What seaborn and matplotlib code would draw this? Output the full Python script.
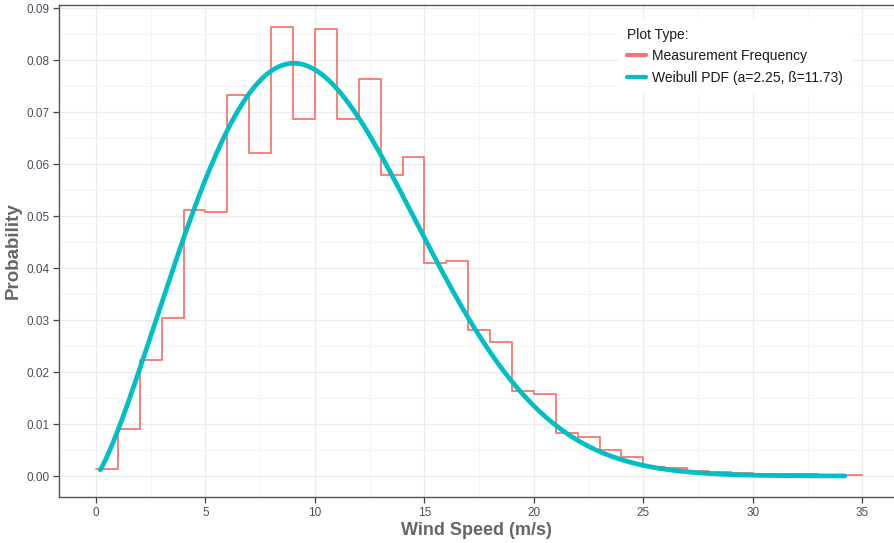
import numpy as np
import pandas as pd
import matplotlib
matplotlib.use("Agg")
import matplotlib.pyplot as plt
from matplotlib.lines import Line2D
from matplotlib.ticker import MultipleLocator
import seaborn as sns

# Relative frequency of wind-speed measurements per 1 m/s bin (bin left edges 0..34)
bin_edges = list(range(0, 36))
freq = [0.0014, 0.0091, 0.0224, 0.0303, 0.0511, 0.0508, 0.0733, 0.0622, 0.0863, 0.0686,
        0.0860, 0.0686, 0.0763, 0.0579, 0.0614, 0.0409, 0.0414, 0.0281, 0.0257, 0.0163,
        0.0158, 0.0083, 0.0075, 0.0050, 0.0037, 0.0017, 0.0016, 0.0010, 0.0007, 0.0005,
        0.0004, 0.0003, 0.0003, 0.0002, 0.0002]

# Fitted Weibull parameters (shape a, scale beta)
shape_a = 2.25
scale_b = 11.73
pdf_range = [0.2, 34.2]

x_ticks = [0, 5, 10, 15, 20, 25, 30, 35]
y_ticks = [0.00, 0.01, 0.02, 0.03, 0.04, 0.05, 0.06, 0.07, 0.08, 0.09]

RED = "#F8766D"
TEAL = "#00BFC4"

sns.set_theme(style="white")
plt.rcParams["font.family"] = ["Liberation Sans", "DejaVu Sans"]

step_df = pd.DataFrame({"speed": bin_edges, "prob": freq + [freq[-1]]})
xs = np.linspace(pdf_range[0], pdf_range[1], 400)
pdf = (shape_a / scale_b) * (xs / scale_b) ** (shape_a - 1) * np.exp(-(xs / scale_b) ** shape_a)
pdf_df = pd.DataFrame({"speed": xs, "prob": pdf})

fig = plt.figure(figsize=(8.94, 5.43), dpi=100)
ax = fig.add_axes([0.066, 0.0847, 0.934, 0.9061])

sns.lineplot(data=step_df, x="speed", y="prob", ax=ax, color=RED, linewidth=1.3,
             drawstyle="steps-post", estimator=None, sort=False, zorder=3)
sns.lineplot(data=pdf_df, x="speed", y="prob", ax=ax, color=TEAL, linewidth=3.4,
             estimator=None, sort=False, zorder=4)

ax.set_xlim(-1.69, 36.45)
ax.set_ylim(-0.00404, 0.0906)
ax.set_xticks(x_ticks)
ax.set_yticks(y_ticks)
ax.set_yticklabels([f"{v:.2f}" for v in y_ticks])
ax.xaxis.set_minor_locator(MultipleLocator(2.5))
ax.yaxis.set_minor_locator(MultipleLocator(0.005))

ax.grid(which="major", color="#EBEBEB", linewidth=0.9)
ax.grid(which="minor", color="#F3F3F3", linewidth=0.6)
ax.set_axisbelow(True)

for side in ["left", "bottom", "top"]:
    ax.spines[side].set_color("#555555")
    ax.spines[side].set_linewidth(1.0)
ax.spines["right"].set_visible(False)

ax.tick_params(axis="both", which="major", length=4, width=0.9, color="#444444",
               labelsize=8.5, labelcolor="#4D4D5A", pad=3, bottom=True, left=True)
ax.tick_params(axis="both", which="minor", length=0)

ax.set_xlabel("Wind Speed (m/s)", fontsize=13, fontweight="bold", color="#666666", labelpad=2)
ax.set_ylabel("Probability", fontsize=13.5, fontweight="bold", color="#666666", labelpad=3)

handles = [Line2D([0], [0], color=RED, linewidth=3),
           Line2D([0], [0], color=TEAL, linewidth=3)]
leg = ax.legend(handles, ["Measurement Frequency", "Weibull PDF (a=2.25, ß=11.73)"],
                title="Plot Type:", loc="upper left", bbox_to_anchor=(0.662, 0.985),
                frameon=True, fontsize=10, title_fontsize=10, handlelength=1.4,
                handletextpad=0.4, labelspacing=0.55, borderpad=0.6)
leg.get_frame().set_facecolor("white")
leg.get_frame().set_edgecolor("white")
leg.get_frame().set_alpha(1.0)
leg._legend_box.align = "left"
for t in leg.get_texts():
    t.set_color("#1A1A1A")
leg.get_title().set_color("#1A1A1A")

fig.savefig("out.png", dpi=100)
